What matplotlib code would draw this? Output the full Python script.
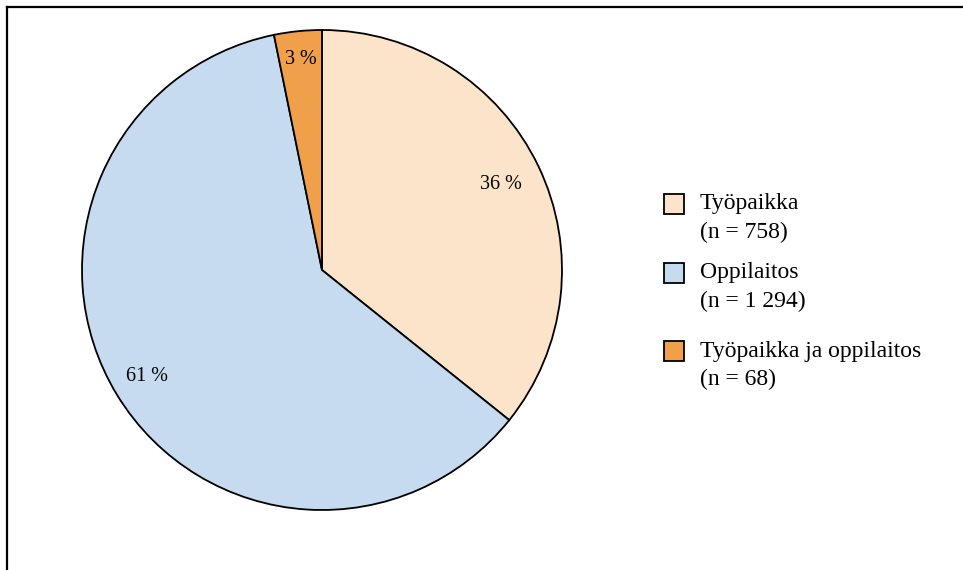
import numpy as np
import matplotlib.pyplot as plt
from matplotlib.lines import Line2D
from matplotlib.patches import Rectangle

plt.rcParams['font.family'] = ['Liberation Serif', 'DejaVu Serif']

# data
labels = ["Työpaikka", "Oppilaitos", "Työpaikka ja oppilaitos"]
counts = [758, 1294, 68]
colors = ["#FCE4CA", "#C6DBF0", "#F0A04B"]
label_dist = [0.825, 0.855, 0.88]

W, H = 963, 570
fig = plt.figure(figsize=(W / 100, H / 100), dpi=100)

# pie axes: center (322, 270), radius 240 px
ax = fig.add_axes([82 / W, 60 / H, 480 / W, 480 / H])
wedges, _ = ax.pie(counts, colors=colors, startangle=90, counterclock=False,
                   wedgeprops=dict(edgecolor="black", linewidth=1.3))
ax.set_xlim(-1, 1)
ax.set_ylim(-1, 1)
ax.set_aspect("equal")
ax.axis("off")

total = sum(counts)
for w, c, d in zip(wedges, counts, label_dist):
    ang = np.deg2rad((w.theta1 + w.theta2) / 2)
    ax.text(d * np.cos(ang), d * np.sin(ang), f"{round(100 * c / total)} %",
            ha="center", va="center", fontsize=14.5)

# legend, drawn by hand so the box sits next to the first line
def fx(px):
    return px / W

def fy(py):
    return 1 - py / H

rows_y = [204, 273, 351]
for l, c, col, y in zip(labels, counts, colors, rows_y):
    fig.add_artist(Rectangle((fx(664), fy(y + 10)), 20 / W, 20 / H,
                             transform=fig.transFigure, facecolor=col,
                             edgecolor="black", linewidth=1.3))
    n = f"{c:,}".replace(",", " ")
    fig.text(fx(700), fy(y), l, ha="left", va="center", fontsize=17)
    fig.text(fx(700), fy(y + 28), f"(n = {n})", ha="left", va="center", fontsize=17)

# frame lines (left and top only)
fig.add_artist(Line2D([7 / W, 7 / W], [0, 1 - 7 / H], transform=fig.transFigure,
                      color="black", linewidth=1.6))
fig.add_artist(Line2D([7 / W, 1], [1 - 7 / H, 1 - 7 / H], transform=fig.transFigure,
                      color="black", linewidth=1.6))

fig.savefig("out.png", dpi=100)
